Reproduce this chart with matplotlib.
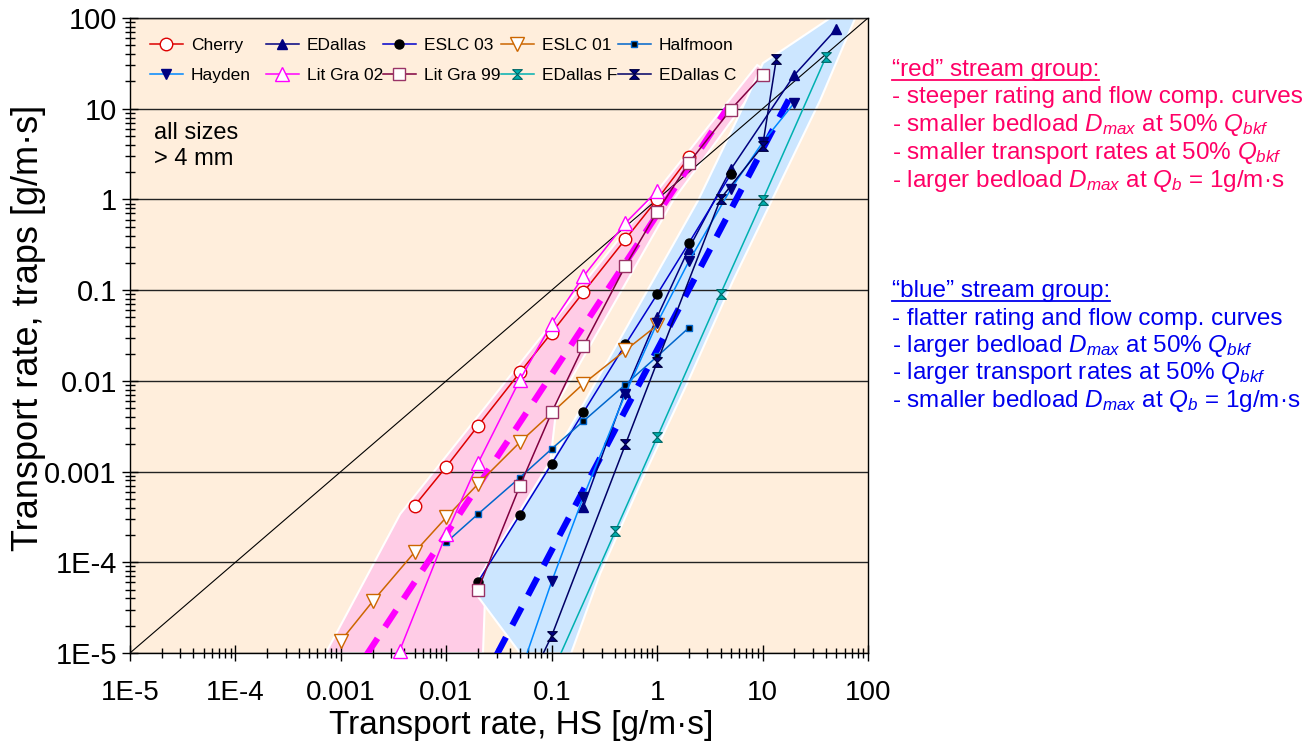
import matplotlib
matplotlib.use('Agg')
import matplotlib.pyplot as plt
import numpy as np
from matplotlib.path import Path
from matplotlib.patches import Polygon
from matplotlib.ticker import LogLocator, NullFormatter
from matplotlib.lines import Line2D

plt.rcParams['font.family'] = ['Liberation Sans', 'DejaVu Sans']
plt.rcParams['mathtext.fontset'] = 'custom'
plt.rcParams['mathtext.rm'] = 'Liberation Sans'
plt.rcParams['mathtext.it'] = 'Liberation Sans:italic'
plt.rcParams['mathtext.bf'] = 'Liberation Sans:bold'

# ---------------- data ----------------
cherry_x = [0.005, 0.01, 0.02, 0.05, 0.1, 0.2, 0.5, 1, 2]
cherry_y = [4.2e-4, 1.13e-3, 3.2e-3, 0.0124, 0.034, 0.095, 0.364, 1.0, 2.9]

edallas_x = [0.2, 0.5, 1, 2, 5, 20, 50]
edallas_y = [4.1e-4, 7.6e-3, 0.0505, 0.287, 2.15, 23.5, 75.6]

eslc03_x = [0.02, 0.05, 0.1, 0.2, 0.5, 1, 2, 5]
eslc03_y = [6.1e-5, 3.35e-4, 1.22e-3, 4.5e-3, 0.0252, 0.09, 0.331, 1.9]

eslc01_x = [0.001, 0.002, 0.005, 0.01, 0.02, 0.05, 0.2, 0.5, 1]
eslc01_y = [1.36e-5, 3.7e-5, 1.29e-4, 3.13e-4, 7.3e-4, 2.11e-3, 9.3e-3, 0.0217, 0.041]

halfmoon_x = [0.01, 0.02, 0.05, 0.1, 0.2, 0.5, 1, 2]
halfmoon_y = [1.66e-4, 3.4e-4, 8.6e-4, 1.78e-3, 3.6e-3, 9.1e-3, 0.0186, 0.0385]

hayden_x = [0.05, 0.1, 0.2, 0.5, 1, 2, 5, 10, 20]
hayden_y = [5.9e-6, 6.15e-5, 5.3e-4, 7.2e-3, 0.0434, 0.208, 1.3, 4.25, 11.6]

litgra02_x = [0.0036, 0.01, 0.02, 0.05, 0.1, 0.2, 0.5, 1]
litgra02_y = [1.05e-5, 2.05e-4, 1.24e-3, 0.0103, 0.0427, 0.142, 0.55, 1.24]

litgra99_x = [0.02, 0.05, 0.1, 0.2, 0.5, 1, 2, 5, 10]
litgra99_y = [5e-5, 7e-4, 4.5e-3, 0.0242, 0.185, 0.73, 2.53, 9.8, 23.5]

edallasf_x = [0.1, 0.4, 1, 4, 10, 40]
edallasf_y = [5.9e-6, 2.19e-4, 2.39e-3, 0.0915, 0.98, 37.4]

edallasc_x = [0.05, 0.1, 0.5, 1, 4, 10, 13.5]
edallasc_y = [2.9e-6, 1.55e-5, 1.99e-3, 0.0161, 1.02, 3.87, 35.3]

# group fit lines (end points)
red_fit_x = [1.75e-3, 4.6]
red_fit_y = [9.5e-6, 10.0]
blue_fit_x = [0.03, 20]
blue_fit_y = [9.5e-6, 16.5]

# group envelopes
red_band_x = [7.2e-4, 3.65e-3, 8.9, 11.1, 1.42, 0.112, 0.0925, 0.0239, 0.0223]
red_band_y = [1e-5, 3.4e-4, 30.3, 25.4, 0.98, 5.6e-3, 7.96e-4, 9.2e-5, 1e-5]
blue_band_x = [0.0176, 0.12, 2.45, 6.1, 10.1, 43.8, 75.7, 35.2, 5.26, 1.93, 0.736, 0.288, 0.153, 0.05]
blue_band_y = [5.1e-5, 1.94e-3, 0.98, 8.9, 31.9, 100, 100, 12.4, 0.128, 9.4e-3, 8.6e-4, 7.5e-5, 1e-5, 1e-5]

one_to_one = [1e-5, 100]

tick_vals = [1e-5, 1e-4, 1e-3, 1e-2, 0.1, 1, 10, 100]
tick_labels = ['1E-5', '1E-4', '0.001', '0.01', '0.1', '1', '10', '100']

legend_rows = [['Cherry', 'EDallas', 'ESLC 03', 'ESLC 01', 'Halfmoon'],
               ['Hayden', 'Lit Gra 02', 'Lit Gra 99', 'EDallas F', 'EDallas C']]

red_notes = ['\u201cred\u201d stream group:',
             '- steeper rating and flow comp. curves',
             '- smaller bedload $D_{max}$ at 50% $Q_{bkf}$',
             '- smaller transport rates at 50% $Q_{bkf}$',
             '- larger bedload $D_{max}$ at $Q_b$ = 1g/m\u00b7s']
blue_notes = ['\u201cblue\u201d stream group:',
              '- flatter rating and flow comp. curves',
              '- larger bedload $D_{max}$ at 50% $Q_{bkf}$',
              '- larger transport rates at 50% $Q_{bkf}$',
              '- smaller bedload $D_{max}$ at $Q_b$ = 1g/m\u00b7s']

# ---------------- figure ----------------
W, H = 1312, 746
X0, X1, Y0, Y1 = 130, 868, 18, 653
fig = plt.figure(figsize=(W / 100, H / 100), dpi=100)
ax = fig.add_axes([X0 / W, 1 - Y1 / H, (X1 - X0) / W, (Y1 - Y0) / H])
ax.set_xscale('log')
ax.set_yscale('log')
ax.set_xlim(1e-5, 100)
ax.set_ylim(1e-5, 100)
ax.set_facecolor('#FFEEDC')
ax.set_axisbelow(False)

ax.add_patch(Polygon(np.column_stack([red_band_x, red_band_y]), closed=True,
                     facecolor='#FFCCE6', edgecolor='white', lw=1.5, zorder=1))
ax.add_patch(Polygon(np.column_stack([blue_band_x, blue_band_y]), closed=True,
                     facecolor='#CCE6FF', edgecolor='white', lw=1.5, zorder=1.1))

ax.yaxis.grid(True, which='major', color='#222222', lw=1.0)
ax.plot(one_to_one, one_to_one, color='black', lw=0.8, zorder=2.6)

ax.plot(red_fit_x, red_fit_y, color='#FF00FF', lw=4.5, dashes=(3.2, 2.2),
        solid_capstyle='butt', dash_capstyle='butt', zorder=3)
ax.plot(blue_fit_x, blue_fit_y, color='#0000FF', lw=4.5, dashes=(3.2, 2.2),
        solid_capstyle='butt', dash_capstyle='butt', zorder=3)

hg = Path([(-1, 1), (1, 1), (0, 0), (1, -1), (-1, -1), (0, 0), (-1, 1)])

lw = 1.1
h = {}
h['Cherry'], = ax.plot(cherry_x, cherry_y, color='#DD0000', lw=lw, marker='o', ms=9,
                       mfc='white', mec='#DD0000', mew=1.0, zorder=4)
h['EDallas'], = ax.plot(edallas_x, edallas_y, color='#000080', lw=lw, marker='^', ms=6.5,
                        mfc='#000080', mec='#000080', zorder=4)
h['ESLC 03'], = ax.plot(eslc03_x, eslc03_y, color='#0000CC', lw=lw, marker='o', ms=6.5,
                        mfc='black', mec='black', zorder=4)
h['ESLC 01'], = ax.plot(eslc01_x, eslc01_y, color='#CC6600', lw=lw, marker='v', ms=10,
                        mfc='white', mec='#CC6600', mew=1.0, zorder=4)
h['Halfmoon'], = ax.plot(halfmoon_x, halfmoon_y, color='#0066CC', lw=lw, marker='s', ms=4.5,
                         mfc='black', mec='#0066CC', zorder=4)
h['Hayden'], = ax.plot(hayden_x, hayden_y, color='#0088FF', lw=lw, marker='v', ms=6.5,
                       mfc='#000080', mec='#000080', zorder=4)
h['Lit Gra 02'], = ax.plot(litgra02_x, litgra02_y, color='#FF00FF', lw=lw, marker='^', ms=10,
                           mfc='white', mec='#FF00FF', mew=1.0, zorder=4, clip_on=False)
h['Lit Gra 99'], = ax.plot(litgra99_x, litgra99_y, color='#800040', lw=lw, marker='s', ms=9,
                           mfc='white', mec='#993366', mew=1.0, zorder=4)
h['EDallas F'], = ax.plot(edallasf_x, edallasf_y, color='#00B0B0', lw=lw, marker=hg, ms=7,
                          mfc='#00B0B0', mec='#006666', mew=0.8, zorder=4)
h['EDallas C'], = ax.plot(edallasc_x, edallasc_y, color='#000066', lw=lw, marker=hg, ms=7,
                          mfc='#000080', mec='#000040', mew=0.8, zorder=4)

# legend: one legend per column so columns are evenly spaced
col_px = [150, 266, 383, 501, 618]
for i, cx in enumerate(col_px):
    names = [legend_rows[0][i], legend_rows[1][i]]
    lg = ax.legend([h[n] for n in names], names, loc='upper left',
                   bbox_to_anchor=((cx - X0) / (X1 - X0), (Y1 - 38) / (Y1 - Y0)),
                   borderaxespad=0, borderpad=0, frameon=False, fontsize=12.5,
                   handlelength=1.9, handletextpad=0.45, labelspacing=0.86)
    lg.set_zorder(6)
    if i < len(col_px) - 1:
        ax.add_artist(lg)

# axes ticks
ax.set_xticks(tick_vals, tick_labels)
ax.set_yticks(tick_vals, tick_labels)
ax.xaxis.set_minor_locator(LogLocator(base=10, subs=np.arange(2, 10), numticks=20))
ax.yaxis.set_minor_locator(LogLocator(base=10, subs=np.arange(2, 10), numticks=20))
ax.xaxis.set_minor_formatter(NullFormatter())
ax.yaxis.set_minor_formatter(NullFormatter())
ax.tick_params(axis='x', which='major', direction='inout', length=11, width=1, labelsize=20, pad=14)
ax.tick_params(axis='y', which='major', direction='inout', length=11, width=1, labelsize=21, pad=4)
ax.tick_params(axis='both', which='minor', direction='inout', length=7, width=1)
for s in ax.spines.values():
    s.set_linewidth(1.0)
    s.set_color('black')

ax.set_xlabel('Transport rate, HS [g/m\u00b7s]', fontsize=24)
ax.xaxis.set_label_coords((521 - X0) / (X1 - X0), -(710 - Y1) / (Y1 - Y0))
ax.set_ylabel('Transport rate, traps [g/m\u00b7s]', fontsize=26)
ax.yaxis.set_label_coords(-(X0 - 46) / (X1 - X0), (Y1 - 328) / (Y1 - Y0))

ax.text((154 - X0) / (X1 - X0), (Y1 - 146) / (Y1 - Y0), 'all sizes\n> 4 mm', transform=ax.transAxes,
        fontsize=17, va='center', ha='left', linespacing=1.25, zorder=5)

# side notes
red_c = '#FF0066'
blue_c = '#0000EE'
red_base = [76, 103.5, 131.5, 159, 186.5]
blue_base = [297, 324.5, 352, 379.5, 407]
heads = []
for k, (s, b) in enumerate(zip(red_notes, red_base)):
    t = fig.text(892 / W, 1 - b / H, s, color=red_c, fontsize=17.5, va='baseline', ha='left')
    if k == 0:
        heads.append((t, b, red_c))
for k, (s, b) in enumerate(zip(blue_notes, blue_base)):
    t = fig.text(892 / W, 1 - b / H, s, color=blue_c, fontsize=17.5, va='baseline', ha='left')
    if k == 0:
        heads.append((t, b, blue_c))

fig.canvas.draw()
r = fig.canvas.get_renderer()
for t, b, c in heads:
    bb = t.get_window_extent(r)
    y = 1 - (b + 3.5) / H
    fig.add_artist(Line2D([bb.x0 / W, bb.x1 / W], [y, y], color=c, lw=1.3,
                          transform=fig.transFigure))

fig.savefig('out.png', dpi=100, facecolor='white')
